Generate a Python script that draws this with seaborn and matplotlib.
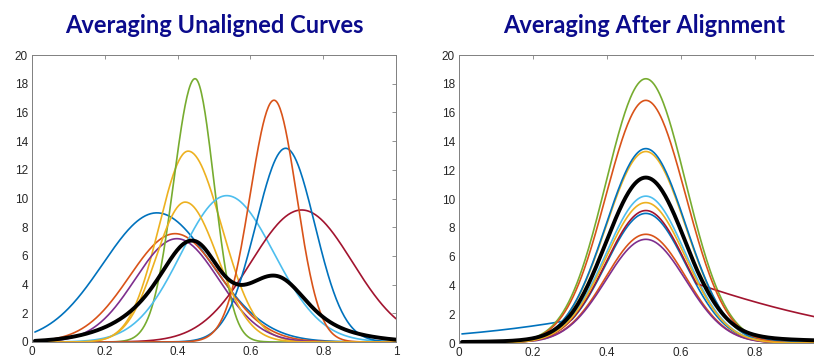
import numpy as np
import pandas as pd
import matplotlib
matplotlib.use("Agg")
import matplotlib.pyplot as plt
from matplotlib.ticker import FuncFormatter
import seaborn as sns

# curve parameters (peak location, peak height, left/right spread)
curve_names = ["c1", "c2", "c3", "c4", "c5", "c6", "c7", "c8", "c9", "c10"]
curve_colors = ["#0072BD", "#D95319", "#EDB120", "#7E2F8E", "#77AC30",
                "#4DBEEE", "#A2142F", "#0072BD", "#D95319", "#EDB120"]
peak_x = [0.343, 0.393, 0.429, 0.398, 0.448, 0.535, 0.741, 0.697, 0.665, 0.421]
peak_y = [9.0, 7.55, 13.3, 7.2, 18.35, 10.2, 9.2, 13.5, 16.85, 9.75]
width_left = [0.148, 0.125, 0.080, 0.115, 0.059, 0.125, 0.139, 0.082, 0.066, 0.080]
width_right = [0.150, 0.125, 0.092, 0.115, 0.052, 0.130, 0.139, 0.080, 0.062, 0.089]

# common peak location / spread after alignment (right panel)
aligned_x = 0.505
aligned_width = 0.108

titles = ["Averaging Unaligned Curves", "Averaging After Alignment"]
x_ticks = [0, 0.2, 0.4, 0.6, 0.8, 1.0]
y_ticks = [0, 2, 4, 6, 8, 10, 12, 14, 16, 18, 20]

grid = np.linspace(0.008, 1.0, 400)


def bump(t, c, h, sl, sr):
    s = np.where(t < c, sl, sr)
    return h * np.exp(-0.5 * ((t - c) / s) ** 2)


def warp(t, c, sl, sr):
    kl = sl / aligned_width
    kr = sr / aligned_width
    a = min(0.8 * c / kl, 0.45)
    b = min(0.68 * (1 - c) / kr, 0.45)
    return np.interp(t, [0, aligned_x - a, aligned_x, aligned_x + b, 1],
                     [0, c - a * kl, c, c + b * kr, 1])


rows_raw, rows_al = [], []
for n, c, h, sl, sr in zip(curve_names, peak_x, peak_y, width_left, width_right):
    y_raw = bump(grid, c, h, sl, sr)
    y_al = bump(warp(grid, c, sl, sr), c, h, sl, sr)
    rows_raw.append(pd.DataFrame({"x": grid, "y": y_raw, "curve": n}))
    rows_al.append(pd.DataFrame({"x": grid, "y": y_al, "curve": n}))
df_raw = pd.concat(rows_raw, ignore_index=True)
df_al = pd.concat(rows_al, ignore_index=True)
mean_raw = df_raw.groupby("x")["y"].mean().reset_index()
mean_al = df_al.groupby("x")["y"].mean().reset_index()

sns.set_theme(style="white")
plt.rcParams["font.family"] = ["Liberation Sans", "DejaVu Sans"]

fig = plt.figure(figsize=(8.14, 3.58), dpi=100)
ax1 = fig.add_axes([32 / 814, 16 / 358, 364 / 814, 287 / 358])
ax2 = fig.add_axes([459 / 814, 15 / 358, 370 / 814, 288 / 358])

pal = dict(zip(curve_names, curve_colors))
for ax, df, mean, title in [(ax1, df_raw, mean_raw, titles[0]),
                            (ax2, df_al, mean_al, titles[1])]:
    sns.lineplot(data=df, x="x", y="y", hue="curve", palette=pal,
                 estimator=None, linewidth=1.2, legend=False, ax=ax)
    sns.lineplot(data=mean, x="x", y="y", color="black", linewidth=2.8,
                 estimator=None, ax=ax)
    ax.set_xlim(0, 1)
    ax.set_ylim(0, 20)
    ax.set_yticks(y_ticks)
    ax.set_xlabel("")
    ax.set_ylabel("")
    ax.tick_params(direction="in", top=True, right=True, length=3, width=0.6,
                   color="#808080", labelcolor="#262626", labelsize=8.5, pad=3)
    for sp in ax.spines.values():
        sp.set_color("#808080")
        sp.set_linewidth(0.7)
    ax.set_title(title, fontsize=17, fontweight="bold", color="#0B0B8C",
                 family=["Lato", "DejaVu Sans"], pad=16)

ax1.set_xticks(x_ticks)
# right panel runs past the image edge, so its "1" label is not shown
ax2.set_xticks(x_ticks)
ax2.set_xticklabels([f"{v:g}" for v in x_ticks[:-1]] + [""])
ax1.xaxis.set_major_formatter(FuncFormatter(lambda v, p: f"{v:g}"))

fig.savefig("out.png", dpi=100)
